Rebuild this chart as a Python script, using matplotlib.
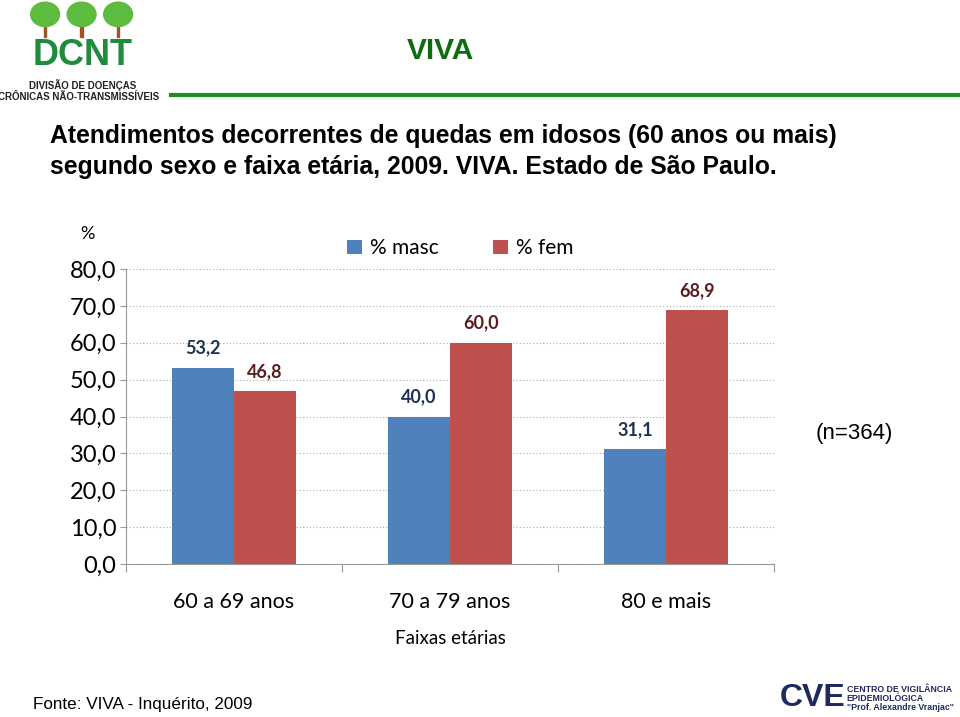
import numpy as np
import matplotlib.pyplot as plt
from matplotlib.patches import Ellipse, Rectangle

# Data
categorias = ["60 a 69 anos", "70 a 79 anos", "80 e mais"]
masc = [53.2, 40.0, 31.1]
fem = [46.8, 60.0, 68.9]
yticks = [0, 10, 20, 30, 40, 50, 60, 70, 80]

azul = "#4F81BD"
vermelho = "#C0504D"
cal = "Lato"

fig = plt.figure(figsize=(9.6, 7.17), dpi=100)

# Header: logo DCNT, VIVA, green rule
for cx in [0.047, 0.085, 0.123]:
    fig.patches.append(Rectangle((cx - 0.0012, 0.948), 0.0024, 0.03, transform=fig.transFigure,
                                 color="#A0522D", zorder=1))
    fig.patches.append(Ellipse((cx, 0.98), 0.03, 0.034, transform=fig.transFigure,
                               color="#5DBB3F", zorder=2))
fig.text(0.086, 0.923, "DCNT", ha="center", va="center", fontsize=26, fontweight="bold",
         color="#1E8C3A", family="Liberation Sans")
fig.text(0.086, 0.882, "DIVISÃO DE DOENÇAS", ha="center", va="center", fontsize=7,
         fontweight="bold", color="#222222", family="Liberation Sans")
fig.text(0.082, 0.865, "CRÔNICAS NÃO-TRANSMISSÍVEIS", ha="center", va="center", fontsize=7,
         fontweight="bold", color="#222222", family="Liberation Sans")
fig.lines.append(plt.Line2D([0.178, 1.0], [0.867, 0.867], transform=fig.transFigure,
                            color="#1E8C1E", lw=3))
fig.text(0.459, 0.929, "VIVA", ha="center", va="center", fontsize=21.5, fontweight="bold",
         color="#0E6B0E", family="Liberation Sans")

# Title
fig.text(0.052, 0.81, "Atendimentos decorrentes de quedas em idosos (60 anos ou mais)",
         ha="left", va="center", fontsize=17.8, fontweight="bold", family="Liberation Sans")
fig.text(0.052, 0.767, "segundo sexo e faixa etária, 2009. VIVA. Estado de São Paulo.",
         ha="left", va="center", fontsize=17.8, fontweight="bold", family="Liberation Sans")

# Chart
ax = fig.add_axes([0.1312, 0.2134, 0.675, 0.4114])
x = np.arange(len(categorias))
w = 0.285
b1 = ax.bar(x - w / 2, masc, w, color=azul, label="% masc", zorder=3)
b2 = ax.bar(x + w / 2, fem, w, color=vermelho, label="% fem", zorder=3)

for rect, v in zip(b1, masc):
    ax.annotate(f"{v:.1f}".replace(".", ","), (rect.get_x() + rect.get_width() / 2, v),
                xytext=(0, 8), textcoords="offset points", ha="center", va="bottom",
                fontsize=13, color="#1F3251", family=cal, fontweight="bold")
for rect, v in zip(b2, fem):
    ax.annotate(f"{v:.1f}".replace(".", ","), (rect.get_x() + rect.get_width() / 2, v),
                xytext=(0, 8), textcoords="offset points", ha="center", va="bottom",
                fontsize=13, color="#5A1E1E", family=cal, fontweight="bold")

ax.set_xlim(-0.5, 2.5)
ax.set_ylim(0, 80)
ax.set_yticks(yticks)
ax.set_yticklabels([f"{t:.1f}".replace(".", ",") for t in yticks], fontsize=17, family=cal)
ax.yaxis.grid(True, linestyle=(0, (1, 2)), color="#AAAAAA", lw=0.8, zorder=0)
ax.set_axisbelow(True)

ax.set_xticks([-0.5, 0.5, 1.5, 2.5])
ax.set_xticklabels([])
ax.set_xticks(x, minor=True)
ax.set_xticklabels(categorias, minor=True, fontsize=15.5, family=cal)
ax.tick_params(axis="x", which="minor", length=0, pad=20)
ax.tick_params(axis="x", which="major", length=6, color="#999999")
ax.tick_params(axis="y", length=4, color="#999999", pad=3)

for s in ["top", "right"]:
    ax.spines[s].set_visible(False)
for s in ["left", "bottom"]:
    ax.spines[s].set_color("#999999")

ax.set_xlabel("Faixas etárias", fontsize=13.5, family=cal, labelpad=13)
ax.text(-0.059, 1.12, "%", transform=ax.transAxes, ha="center", va="center",
        fontsize=13, family=cal)

ax.legend(loc="center", bbox_to_anchor=(0.516, 1.07), ncol=2, frameon=False,
          prop={"family": cal, "size": 15}, handlelength=0.7,
          handleheight=0.7, handletextpad=0.4, columnspacing=2.6)

fig.text(0.89, 0.395, "(n=364)", ha="center", va="center", fontsize=16,
         family="Liberation Sans")

# Footer
fig.text(0.034, 0.017, "Fonte: VIVA - Inquérito, 2009", ha="left", va="center",
         fontsize=12.3, family="Liberation Sans")
fig.text(0.846, 0.026, "CVE", ha="center", va="center", fontsize=23, fontweight="bold",
         color="#1F2A5C", family="Liberation Sans")
fig.text(0.882, 0.039, "CENTRO DE VIGILÂNCIA", ha="left", va="center", fontsize=6.3,
         fontweight="bold", color="#1F2A5C", family="Liberation Sans")
fig.text(0.882, 0.026, "EPIDEMIOLÓGICA", ha="left", va="center", fontsize=6.3,
         fontweight="bold", color="#1F2A5C", family="Liberation Sans")
fig.text(0.882, 0.013, "\"Prof. Alexandre Vranjac\"", ha="left", va="center", fontsize=6.3,
         fontweight="bold", color="#1F2A5C", family="Liberation Sans")

fig.savefig("out.png", dpi=100)
